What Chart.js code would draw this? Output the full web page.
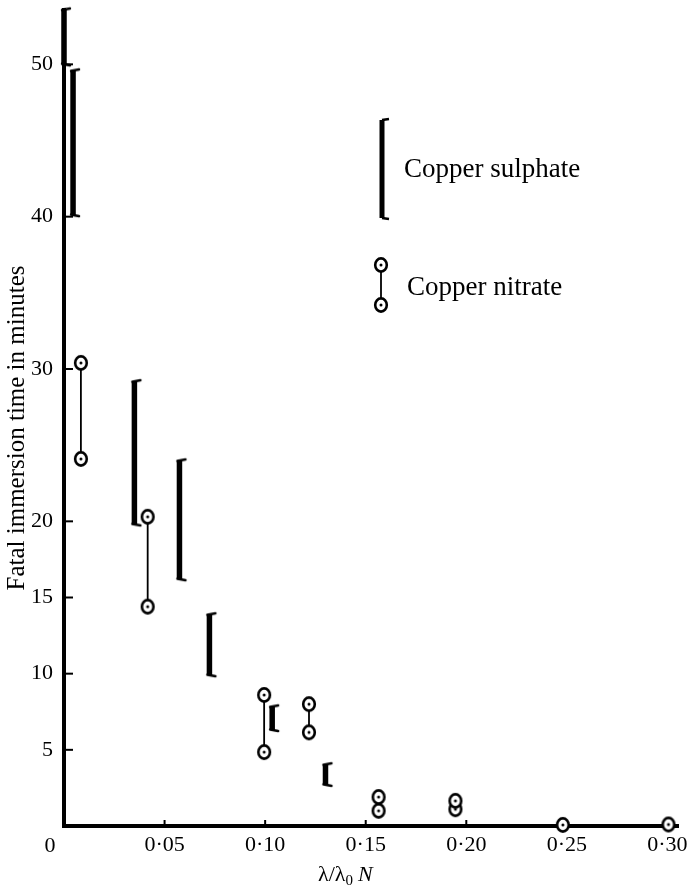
<!DOCTYPE html>
<html>
<head>
<meta charset="utf-8">
<script src="https://cdn.jsdelivr.net/npm/chart.js@4.4.1/dist/chart.umd.min.js"></script>
<style>
body{margin:0;background:#fff;}
</style>
</head>
<body>
<canvas id="fig" width="688" height="887"></canvas>
<script>
// copper sulphate ranges (thick bracket bars)
const sulphateX    = [0.000, 0.0045, 0.035, 0.0574, 0.0723, 0.1035, 0.130];
const sulphateLow  = [50.0, 40.1, 19.8, 16.2, 9.9, 6.3, 2.7];
const sulphateHigh = [53.6, 49.6, 29.2, 24.0, 13.9, 7.85, 4.05];

// copper nitrate ranges (circles joined by thin line)
const nitrateX    = [0.0084, 0.0416, 0.0995, 0.1218, 0.1564, 0.1946, 0.248, 0.3005];
const nitrateLow  = [24.1, 14.4, 4.85, 6.15, 1.0, 1.1, 0.07, 0.1];
const nitrateHigh = [30.4, 20.3, 8.6, 8.0, 1.9, 1.65, null, null];

const xTicks = [0.05, 0.10, 0.15, 0.20, 0.25, 0.30];
const yTicks = [5, 10, 15, 20, 30, 40, 50];

const SERIF = '"Liberation Serif", "DejaVu Serif", serif';

function ranges(xs, lo, hi) {
  const out = [];
  xs.forEach((x, i) => {
    out.push({x: x, y: lo[i], end: 'low'});
    if (hi[i] != null) out.push({x: x, y: hi[i], end: 'high'});
    out.push({x: x, y: null});
  });
  return out;
}

// point images
function makeCircle() {
  const c = document.createElement('canvas');
  c.width = 18; c.height = 20;
  const g = c.getContext('2d');
  g.fillStyle = '#fff';
  g.strokeStyle = '#000';
  g.lineWidth = 2.6;
  g.beginPath(); g.ellipse(9, 10, 5.8, 6.6, 0, 0, Math.PI * 2); g.fill(); g.stroke();
  g.fillStyle = '#000';
  g.beginPath(); g.arc(9, 10, 1.5, 0, Math.PI * 2); g.fill();
  return c;
}
function makeCap(top) {
  const c = document.createElement('canvas');
  c.width = 22; c.height = 8;
  const g = c.getContext('2d');
  g.strokeStyle = '#000';
  g.lineWidth = 2.4;
  g.lineCap = 'round';
  const y = top ? 4.5 : 3.5;
  g.beginPath();
  g.moveTo(9, y);
  g.lineTo(17, top ? y - 1.5 : y + 1.5);
  g.stroke();
  return c;
}
const circleImg = makeCircle();
const capTop = makeCap(true);
const capBottom = makeCap(false);

const decor = {
  id: 'decor',
  beforeDraw(chart) {
    const g = chart.ctx;
    g.save();
    g.fillStyle = '#fff';
    g.fillRect(0, 0, chart.width, chart.height);
    g.restore();
  },
  afterDraw(chart) {
    const g = chart.ctx;
    const xs = chart.scales.x, ys = chart.scales.y;
    const a = chart.chartArea;
    g.save();
    g.strokeStyle = '#000';
    g.fillStyle = '#000';
    g.lineWidth = 2;
    // inward tick marks
    yTicks.forEach(v => {
      const y = ys.getPixelForValue(v);
      g.beginPath(); g.moveTo(a.left, y); g.lineTo(a.left + 9, y); g.stroke();
    });
    [0.05, 0.10, 0.15, 0.20].forEach(v => {
      const x = xs.getPixelForValue(v);
      g.beginPath(); g.moveTo(x, a.bottom); g.lineTo(x, a.bottom - 6); g.stroke();
    });
    // origin label
    g.font = '22px ' + SERIF;
    g.textAlign = 'center';
    g.textBaseline = 'alphabetic';
    g.fillText('0', 50, 852);
    // y title
    g.save();
    g.translate(24, 428);
    g.rotate(-Math.PI / 2);
    g.font = '25px ' + SERIF;
    g.fillText('Fatal immersion time in minutes', 0, 0);
    g.restore();
    // x title
    g.textAlign = 'left';
    g.font = '22px ' + SERIF;
    let x = 318;
    g.fillText('\u03bb/\u03bb', x, 881);
    x += g.measureText('\u03bb/\u03bb').width;
    g.font = '15px ' + SERIF;
    g.fillText('0', x, 885);
    x += g.measureText('0').width + 5;
    g.font = 'italic 22px ' + SERIF;
    g.fillText('N', x, 881);
    // legend
    g.lineWidth = 5;
    g.beginPath(); g.moveTo(382, 120); g.lineTo(382, 218); g.stroke();
    g.lineWidth = 2.4;
    g.beginPath(); g.moveTo(382, 120); g.lineTo(389, 119); g.stroke();
    g.beginPath(); g.moveTo(382, 218); g.lineTo(389, 219); g.stroke();
    g.lineWidth = 1.8;
    g.beginPath(); g.moveTo(381, 265); g.lineTo(381, 305); g.stroke();
    g.drawImage(circleImg, 381 - 9, 265 - 10);
    g.drawImage(circleImg, 381 - 9, 305 - 10);
    g.font = '27px ' + SERIF;
    g.fillText('Copper sulphate', 404, 177);
    g.fillText('Copper nitrate', 407, 295);
    g.restore();
  }
};

new Chart(document.getElementById('fig'), {
  type: 'line',
  data: {
    datasets: [{
      label: 'Copper sulphate',
      data: ranges(sulphateX, sulphateLow, sulphateHigh),
      borderColor: '#000',
      borderWidth: 5.5,
      borderCapStyle: 'butt',
      spanGaps: false,
      clip: false,
      pointStyle: (ctx) => (ctx.raw && ctx.raw.end === 'high') ? capTop : capBottom,
      pointRadius: 4
    }, {
      label: 'Copper nitrate',
      data: ranges(nitrateX, nitrateLow, nitrateHigh),
      borderColor: '#000',
      borderWidth: 1.8,
      spanGaps: false,
      clip: false,
      pointStyle: circleImg,
      pointRadius: 6
    }]
  },
  options: {
    responsive: false,
    animation: false,
    events: [],
    layout: {padding: {top: 6, right: 7, left: 0, bottom: 0}},
    plugins: {legend: {display: false}, tooltip: {enabled: false}},
    scales: {
      x: {
        type: 'linear',
        min: 0,
        max: 0.3055,
        grid: {display: false, drawTicks: false},
        border: {display: true, width: 4, color: '#000'},
        afterBuildTicks: (s) => { s.ticks = xTicks.map(v => ({value: v})); },
        afterFit: (s) => { s.height = 61; s.paddingLeft = 0; s.paddingRight = 0; },
        ticks: {
          autoSkip: false,
          maxRotation: 0,
          padding: 6,
          color: '#000',
          font: {family: SERIF, size: 22},
          callback: (v) => v.toFixed(2).replace('.', '\u00b7')
        }
      },
      y: {
        type: 'linear',
        min: 0,
        max: 53.6,
        grid: {display: false, drawTicks: false},
        border: {display: true, width: 4, color: '#000'},
        afterBuildTicks: (s) => { s.ticks = yTicks.map(v => ({value: v})); },
        afterFit: (s) => { s.width = 64; s.paddingTop = 0; s.paddingBottom = 0; },
        ticks: {
          autoSkip: false,
          padding: 11,
          color: '#000',
          font: {family: SERIF, size: 22}
        }
      }
    }
  },
  plugins: [decor]
});
</script>
</body>
</html>
